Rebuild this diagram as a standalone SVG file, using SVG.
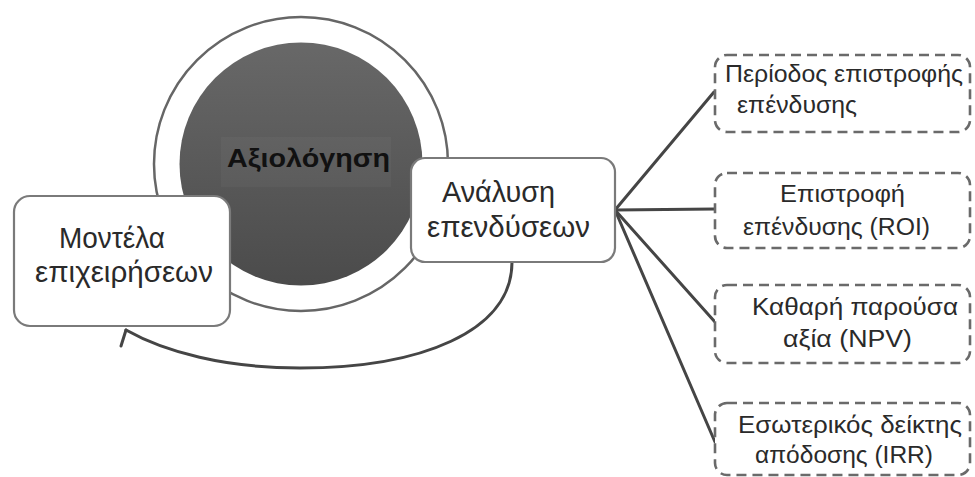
<svg xmlns="http://www.w3.org/2000/svg" width="975" height="477" viewBox="0 0 975 477">
  <style>
    .lbl { font-family: "Liberation Sans", Arial, sans-serif; fill: #2a2a2a; }
    .big { font-size: 29px; }
    .sml { font-size: 23.5px; }
    .solid { fill: #ffffff; stroke: #7a7a7a; stroke-width: 2.2; }
    .dash { fill: #ffffff; stroke: #6a6a6a; stroke-width: 2.6; stroke-dasharray: 10 6; }
    .link { fill: none; stroke: #454545; stroke-width: 3; stroke-linecap: round; }
  </style>
  <defs>
    <linearGradient id="core" x1="0" y1="0" x2="0" y2="1">
      <stop offset="0" stop-color="#686868"/>
      <stop offset="1" stop-color="#4b4b4b"/>
    </linearGradient>
  </defs>
  <rect width="975" height="477" fill="#ffffff"/>

  <!-- central evaluation circle -->
  <g id="evaluation">
    <circle cx="301" cy="164" r="147" fill="#ffffff" stroke="#666666" stroke-width="2.5"/>
    <circle cx="301" cy="164" r="121.5" fill="url(#core)"/>
    <rect x="221" y="137" width="170" height="50" fill="#ffffff" opacity="0.03"/>
    <text class="lbl" x="227" y="167" textLength="163" lengthAdjust="spacingAndGlyphs" style="font-size:26px;font-weight:bold;fill:#111111">Αξιολόγηση</text>
  </g>

  <!-- connectors -->
  <g id="connectors">
    <path class="link" d="M512,262 C512,332 420,368 300,368 C225,368 165,352 126,330" stroke-width="2.6"/>
    <path class="link" d="M126,330 L121,346" stroke-width="2.6"/>
    <path class="link" d="M615,210 L714,92"/>
    <path class="link" d="M615,210 L715,209"/>
    <path class="link" d="M615,210 L715,322"/>
    <path class="link" d="M615,210 L715,442"/>
  </g>

  <g id="business-models">
    <rect class="solid" x="14" y="196" width="216" height="130" rx="16"/>
    <text class="lbl big" x="59" y="248" textLength="106" lengthAdjust="spacingAndGlyphs">Μοντέλα</text>
    <text class="lbl big" x="35" y="282" textLength="178" lengthAdjust="spacingAndGlyphs">επιχειρήσεων</text>
  </g>

  <g id="investment-analysis">
    <rect class="solid" x="411" y="158" width="204" height="104" rx="14"/>
    <text class="lbl big" x="442" y="202" textLength="113" lengthAdjust="spacingAndGlyphs">Ανάλυση</text>
    <text class="lbl big" x="427" y="237" textLength="163" lengthAdjust="spacingAndGlyphs">επενδύσεων</text>
  </g>

  <g id="payback-period">
    <rect class="dash" x="715" y="55" width="255" height="77" rx="12"/>
    <text class="lbl sml" x="725" y="82" textLength="238" lengthAdjust="spacingAndGlyphs">Περίοδος επιστροφής</text>
    <text class="lbl sml" x="737" y="113" textLength="120" lengthAdjust="spacingAndGlyphs">επένδυσης</text>
  </g>

  <g id="roi">
    <rect class="dash" x="715" y="173" width="255" height="75" rx="12"/>
    <text class="lbl sml" x="780" y="202" textLength="125" lengthAdjust="spacingAndGlyphs">Επιστροφή</text>
    <text class="lbl sml" x="743" y="235" textLength="187" lengthAdjust="spacingAndGlyphs">επένδυσης (ROI)</text>
  </g>

  <g id="npv">
    <rect class="dash" x="715" y="285" width="255" height="78" rx="12"/>
    <text class="lbl sml" x="752" y="315" textLength="206" lengthAdjust="spacingAndGlyphs">Καθαρή παρούσα</text>
    <text class="lbl sml" x="783" y="347" textLength="129" lengthAdjust="spacingAndGlyphs">αξία (NPV)</text>
  </g>

  <g id="irr">
    <rect class="dash" x="715" y="403" width="255" height="72" rx="12"/>
    <text class="lbl sml" x="738" y="433" textLength="224" lengthAdjust="spacingAndGlyphs">Εσωτερικός δείκτης</text>
    <text class="lbl sml" x="755" y="463" textLength="178" lengthAdjust="spacingAndGlyphs">απόδοσης (IRR)</text>
  </g>
</svg>
